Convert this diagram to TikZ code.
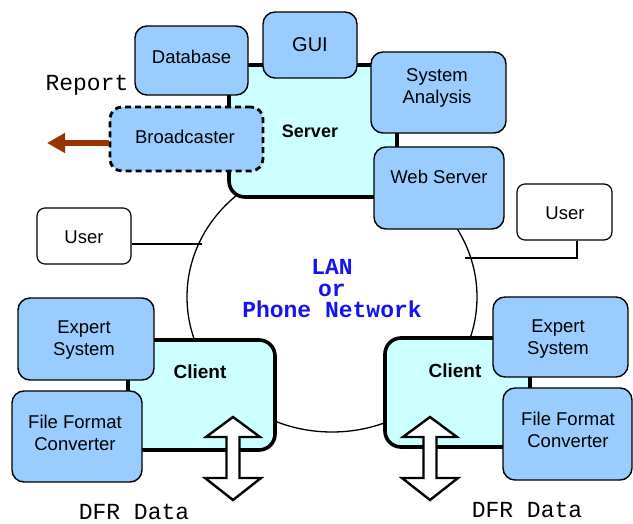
\documentclass[tikz,border=0pt]{standalone}
\usepackage{fontspec}
\setmainfont{Liberation Sans}
\setmonofont{Liberation Mono}
\usetikzlibrary{arrows.meta,shapes.geometric}
\definecolor{boxblue}{RGB}{153,204,255}
\definecolor{srvcyan}{RGB}{204,255,255}
\definecolor{rptbrown}{RGB}{153,51,0}
\definecolor{lanblue}{RGB}{20,20,240}
\tikzset{
  bluebox/.style={draw=black, line width=1.4pt, fill=boxblue, rounded corners=12pt, inner sep=0pt},
  hostbox/.style={draw=black, line width=3.6pt, fill=srvcyan, rounded corners=16pt, inner sep=0pt},
  userbox/.style={draw=black, line width=1.2pt, fill=white, rounded corners=8pt, inner sep=0pt},
  lbl/.style={font=\fontsize{18.5}{22}\selectfont, align=center, inner sep=0pt},
  blbl/.style={font=\fontsize{18}{20}\selectfont\bfseries, align=center, inner sep=0pt},
  mono/.style={font=\fontsize{23}{25}\selectfont\ttfamily, inner sep=0pt},
  lanlbl/.style={font=\fontsize{23}{21.5}\selectfont\ttfamily\bfseries, text=lanblue, align=center, inner sep=0pt},
  wire/.style={draw=black, line width=1.2pt},
  dfrarrow/.style={draw=black, line width=2.4pt, fill=white, line join=miter},
}
\begin{document}
\begin{tikzpicture}[x=1pt,y=-1pt]
\useasboundingbox (0,0) rectangle (633,524);
% network
\node[draw=black, line width=1.3pt, fill=white, ellipse, minimum width=290pt, minimum height=270pt, inner sep=0pt] (lan) at (332,297) {};
\node[lanlbl] (lant) at (332,289) {LAN\\or\\Phone Network};
% users
\node[userbox, minimum width=94pt, minimum height=56pt] (userL) at (84,236) {};
\node[lbl] (userLt) at (84,237) {User};
\node[userbox, minimum width=95pt, minimum height=56pt] (userR) at (564.5,212) {};
\node[lbl] (userRt) at (565,213) {User};
\coordinate (lanL) at (202,244);
\coordinate (lanR) at (465,258);
\draw[wire] (userL.east |- lanL) -- (lanL);
\draw[wire] (userR.south -| 577,0) -- (577,258) -- (lanR);
% server
\node[hostbox, minimum width=168pt, minimum height=132pt] (server) at (313,131) {};
\node[blbl] (servert) at (310,131) {Server};
\node[bluebox, minimum width=113pt, minimum height=69pt] (db) at (191.5,60.5) {};
\node[lbl] (dbt) at (191.5,57) {Database};
\node[bluebox, minimum width=94pt, minimum height=66pt] (gui) at (310,45) {};
\node[lbl, font=\fontsize{20}{22}\selectfont] (guit) at (310,45) {GUI};
\node[bluebox, minimum width=135pt, minimum height=81pt] (sa) at (438.5,92.5) {};
\node[lbl] (sat) at (437,88) {System\\Analysis};
\node[bluebox, minimum width=130pt, minimum height=82pt] (ws) at (439,188) {};
\node[lbl] (wst) at (439,177) {Web Server};
\node[bluebox, dashed, dash pattern=on 6pt off 4pt, line width=2.8pt, minimum width=153pt, minimum height=64pt] (bc) at (186.5,139) {};
\node[lbl] (bct) at (185,137) {Broadcaster};
% report
\node[mono] (report) at (87,85) {Report};
\coordinate (rpt) at (47,143);
\draw[draw=rptbrown, line width=6pt, -{Triangle[length=18pt,width=19pt]}] (bc.west |- rpt) -- (rpt);
% left client
\node[hostbox, minimum width=147pt, minimum height=110pt] (clientL) at (201.5,395) {};
\node[blbl, font=\fontsize{19}{21}\selectfont\bfseries] (clientLt) at (200,372) {Client};
\node[bluebox, minimum width=136pt, minimum height=82pt] (esL) at (86,339) {};
\node[lbl] (esLt) at (84,340) {Expert\\System};
\node[bluebox, minimum width=130pt, minimum height=91pt] (ffcL) at (77,436.5) {};
\node[lbl] (ffcLt) at (75,432.5) {File Format\\Converter};
% right client
\node[hostbox, minimum width=145pt, minimum height=109pt] (clientR) at (457.5,392.5) {};
\node[blbl, font=\fontsize{19}{21}\selectfont\bfseries] (clientRt) at (455,371) {Client};
\node[bluebox, minimum width=135pt, minimum height=80pt] (esR) at (560.5,337) {};
\node[lbl] (esRt) at (558,339) {Expert\\System};
\node[bluebox, minimum width=129pt, minimum height=92pt] (ffcR) at (567.5,434) {};
\node[lbl] (ffcRt) at (568,429.5) {File Format\\Converter};
% DFR arrows
\foreach \cx/\nm in {233/dL, 430/dR}{
  \coordinate (\nm) at (\cx,458);
  \draw[dfrarrow] (\cx,417) -- (\cx+27,437) -- (\cx+6.5,437) -- (\cx+6.5,478) -- (\cx+28,478) -- (\cx,500) -- (\cx-28,478) -- (\cx-6.5,478) -- (\cx-6.5,437) -- (\cx-27,437) -- cycle;
}
\node[mono] (dfrL) at (134,512) {DFR Data};
\node[mono] (dfrR) at (527,510) {DFR Data};
\end{tikzpicture}
\end{document}
